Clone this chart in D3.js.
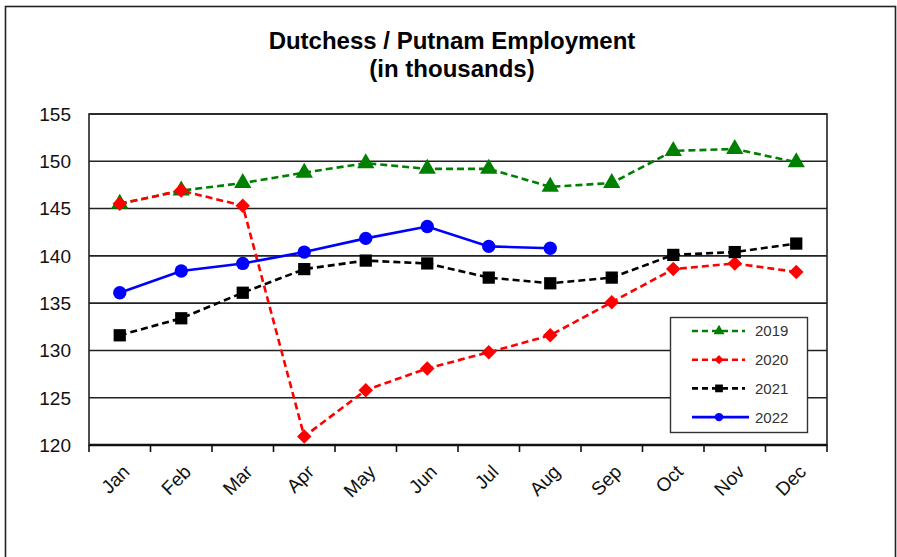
<!DOCTYPE html>
<html>
<head>
<meta charset="utf-8">
<script src="https://cdn.jsdelivr.net/npm/d3@7"></script>
<style>
  body { margin: 0; background: #fff; }
  svg text { font-family: "Liberation Sans", Arial, sans-serif; }
</style>
</head>
<body>
<div id="chart"></div>
<script>
// chart data (thousands)
var months = ['Jan', 'Feb', 'Mar', 'Apr', 'May', 'Jun', 'Jul', 'Aug', 'Sep', 'Oct', 'Nov', 'Dec'];
var yTicks = [120, 125, 130, 135, 140, 145, 150, 155];
var y2019 = [145.5, 146.9, 147.7, 148.8, 149.8, 149.2, 149.2, 147.3, 147.7, 151.1, 151.3, 149.9];
var y2020 = [145.5, 146.9, 145.3, 120.9, 125.8, 128.1, 129.8, 131.6, 135.1, 138.6, 139.2, 138.3];
var y2021 = [131.6, 133.4, 136.1, 138.6, 139.5, 139.2, 137.7, 137.1, 137.7, 140.1, 140.4, 141.3];
var y2022 = [136.1, 138.4, 139.2, 140.4, 141.85, 143.1, 141.0, 140.8];

var series = [
  { name: '2019', values: y2019, color: '#008000', dash: '7,4', symbol: d3.symbolTriangle, size: 130, rot: 0 },
  { name: '2020', values: y2020, color: '#ff0000', dash: '7,4', symbol: d3.symbolSquare, size: 105, rot: 45 },
  { name: '2021', values: y2021, color: '#000000', dash: '7,4', symbol: d3.symbolSquare, size: 150, rot: 0 },
  { name: '2022', values: y2022, color: '#0000ff', dash: null, symbol: d3.symbolCircle, size: 140, rot: 0 }
];

var svgWidth = 897;
var svgHeight = 557;

var margin = { top: 114, right: 70, bottom: 112, left: 89 };
var chartWidth = 827 - margin.left;
var chartHeight = 445 - margin.top;

var svg = d3.select('#chart')
  .append('svg')
  .attr('width', svgWidth)
  .attr('height', svgHeight);

// outer frame
svg.append('rect')
  .attr('x', 5.5).attr('y', 6.5)
  .attr('width', 890).attr('height', 560)
  .attr('fill', 'none')
  .attr('stroke', '#222')
  .attr('stroke-width', 1.6);

// title
svg.append('text')
  .attr('x', 452).attr('y', 49)
  .attr('text-anchor', 'middle')
  .attr('font-size', 24).attr('font-weight', 'bold')
  .text('Dutchess / Putnam Employment');
svg.append('text')
  .attr('x', 452).attr('y', 77)
  .attr('text-anchor', 'middle')
  .attr('font-size', 24).attr('font-weight', 'bold')
  .text('(in thousands)');

var chartGroup = svg.append('g')
  .attr('transform', `translate(${margin.left}, ${margin.top})`);

var xScale = d3.scaleBand()
  .domain(months)
  .range([0, chartWidth]);

var yScale = d3.scaleLinear()
  .domain([120, 155])
  .range([chartHeight, 0]);

var xPos = function(i) { return xScale(months[i]) + xScale.bandwidth() / 2; };

// gridlines
chartGroup.append('g')
  .selectAll('line')
  .data(yTicks)
  .enter()
  .append('line')
  .attr('x1', 0).attr('x2', chartWidth)
  .attr('y1', d => yScale(d)).attr('y2', d => yScale(d))
  .attr('stroke', '#222')
  .attr('stroke-width', 1.6);

// plot frame sides
chartGroup.append('rect')
  .attr('x', 0).attr('y', 0)
  .attr('width', chartWidth).attr('height', chartHeight)
  .attr('fill', 'none')
  .attr('stroke', '#222')
  .attr('stroke-width', 1.6);

// y labels
chartGroup.append('g')
  .selectAll('text')
  .data(yTicks)
  .enter()
  .append('text')
  .attr('x', -18)
  .attr('y', d => yScale(d))
  .attr('dy', '0.36em')
  .attr('text-anchor', 'end')
  .attr('font-size', 19)
  .attr('fill', '#111')
  .text(d => d);

// x axis with ticks between categories
var xAxis = chartGroup.append('g')
  .attr('transform', `translate(0, ${chartHeight})`);

xAxis.append('line')
  .attr('x1', 0).attr('x2', chartWidth)
  .attr('stroke', '#111')
  .attr('stroke-width', 2.4);

xAxis.selectAll('.tick')
  .data(d3.range(months.length + 1))
  .enter()
  .append('line')
  .attr('x1', d => d * xScale.step()).attr('x2', d => d * xScale.step())
  .attr('y1', 0).attr('y2', 7)
  .attr('stroke', '#111')
  .attr('stroke-width', 1.6);

xAxis.selectAll('.xlabel')
  .data(months)
  .enter()
  .append('text')
  .attr('transform', (d, i) => `translate(${xPos(i) + 1}, 18) rotate(-45)`)
  .attr('text-anchor', 'end')
  .attr('dy', '0.75em')
  .attr('font-size', 19)
  .attr('fill', '#111')
  .text(d => d);

// lines
var line = d3.line()
  .x((d, i) => xPos(i))
  .y(d => yScale(d));

series.forEach(function(s) {
  chartGroup.append('path')
    .datum(s.values)
    .attr('d', line)
    .attr('fill', 'none')
    .attr('stroke', s.color)
    .attr('stroke-width', 2.6)
    .attr('stroke-dasharray', s.dash);
});

series.forEach(function(s) {
  chartGroup.append('g')
    .selectAll('path')
    .data(s.values)
    .enter()
    .append('path')
    .attr('transform', (d, i) => `translate(${xPos(i)}, ${yScale(d)}) rotate(${s.rot})`)
    .attr('d', d3.symbol().type(s.symbol).size(s.size))
    .attr('fill', s.color);
});

// legend
var legend = svg.append('g')
  .attr('transform', 'translate(670, 317)');

legend.append('rect')
  .attr('x', 0.5).attr('y', 0.5)
  .attr('width', 137).attr('height', 115)
  .attr('fill', '#fff')
  .attr('stroke', '#333')
  .attr('stroke-width', 1.4);

var legendItems = legend.selectAll('.item')
  .data(series)
  .enter()
  .append('g')
  .attr('transform', (d, i) => `translate(0, ${14 + i * 28.7})`);

legendItems.append('line')
  .attr('x1', 22).attr('x2', d => d.dash ? 75 : 79)
  .attr('stroke', d => d.color)
  .attr('stroke-width', 2.6)
  .attr('stroke-dasharray', d => d.dash ? '6,4' : null);

legendItems.append('path')
  .attr('transform', d => `translate(49, 0) rotate(${d.rot})`)
  .attr('d', d => d3.symbol().type(d.symbol).size(d.size * 0.4)())
  .attr('fill', d => d.color);

legendItems.append('text')
  .attr('x', 85)
  .attr('dy', '0.36em')
  .attr('font-size', 15)
  .attr('fill', '#333')
  .text(d => d.name);
</script>
</body>
</html>
